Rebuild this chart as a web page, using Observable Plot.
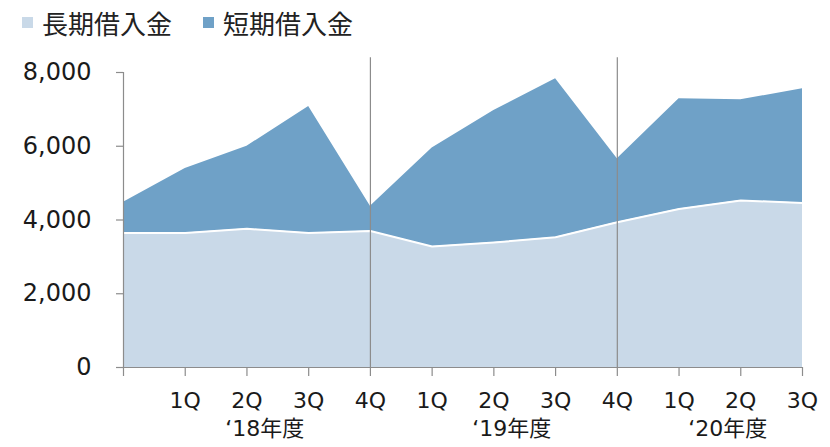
<!DOCTYPE html>
<html><head><meta charset="utf-8">
<script src="https://cdn.jsdelivr.net/npm/d3@7"></script>
<script src="https://cdn.jsdelivr.net/npm/@observablehq/plot@0.6"></script>
<style>
body{margin:0;background:#fff;}
#legend{height:44px;display:flex;align-items:center;padding-left:22px;font-family:"Noto Sans CJK JP",sans-serif;font-size:26px;color:#222;box-sizing:border-box;}
#legend .item{display:flex;align-items:center;margin-right:31px;}
#legend .sw{width:11px;height:11px;margin-right:9px;display:inline-block;}
</style></head><body>
<div id="legend"></div>
<div id="chart"></div>
<script>
const seriesNames = ["長期借入金", "短期借入金"];
const seriesColors = ["#c9d9e8", "#6fa1c7"];
const quarterLabels = ["", "1Q", "2Q", "3Q", "4Q", "1Q", "2Q", "3Q", "4Q", "1Q", "2Q", "3Q"];
const longTermDebt = [3650, 3650, 3760, 3650, 3700, 3280, 3390, 3530, 3940, 4300, 4530, 4460];
const shortTermDebt = [830, 1750, 2240, 3430, 670, 2670, 3580, 4300, 1720, 2990, 2730, 3100];
const fiscalYears = ["\u201818年度", "\u201819年度", "\u201820年度"];
const yearGroups = [[1, 4], [5, 8], [9, 11]];
const yTicks = [0, 2000, 4000, 6000, 8000];
const yearSeparators = [4, 8];

const legend = document.getElementById("legend");
seriesNames.forEach((name, k) => {
  const item = document.createElement("span");
  item.className = "item";
  const sw = document.createElement("span");
  sw.className = "sw";
  sw.style.background = seriesColors[k];
  item.appendChild(sw);
  item.appendChild(document.createTextNode(name));
  legend.appendChild(item);
});

const rows = quarterLabels.map((q, i) => ({i, long: longTermDebt[i], total: longTermDebt[i] + shortTermDebt[i]}));
const axisColor = "#8c8c8c";
const textColor = "#1a1a1a";

const chart = Plot.plot({
  width: 830, height: 403,
  marginLeft: 123, marginRight: 28, marginTop: 28, marginBottom: 80,
  x: {type: "linear", domain: [0, 11], axis: null, label: null},
  y: {domain: [0, 8000], axis: null, label: null},
  style: {fontFamily: '"DejaVu Sans","Noto Sans CJK JP",sans-serif', color: textColor, background: "#fff"},
  marks: [
    Plot.areaY(rows, {x: "i", y1: 0, y2: "long", fill: seriesColors[0]}),
    Plot.areaY(rows, {x: "i", y1: "long", y2: "total", fill: seriesColors[1]}),
    Plot.lineY(rows, {x: "i", y: "long", stroke: "#fff", strokeWidth: 2}),
    Plot.ruleX(yearSeparators, {x: d => d, y1: 0, y2: 8400, stroke: axisColor, strokeWidth: 1.2}),
    Plot.ruleY([0], {stroke: axisColor, strokeWidth: 1.2}),
    Plot.ruleX([0], {y1: 0, y2: 8000, stroke: axisColor, strokeWidth: 1.2}),
    Plot.axisY({ticks: yTicks, tickFormat: d3.format(","), tickSize: 7, tickPadding: 25, fontSize: 24, stroke: axisColor, fill: textColor, strokeWidth: 1.2, label: null}),
    Plot.axisX({ticks: d3.range(quarterLabels.length), tickFormat: i => quarterLabels[i], tickSize: 9, tickPadding: 16, fontSize: 22, stroke: axisColor, fill: textColor, strokeWidth: 1.2, label: null}),
    Plot.text(fiscalYears, {x: (d, k) => (yearGroups[k][0] + yearGroups[k][1]) / 2, frameAnchor: "bottom", dy: 68, dx: -13, fontSize: 22, fill: textColor})
  ]
});
document.getElementById("chart").appendChild(chart);
</script>
</body></html>
